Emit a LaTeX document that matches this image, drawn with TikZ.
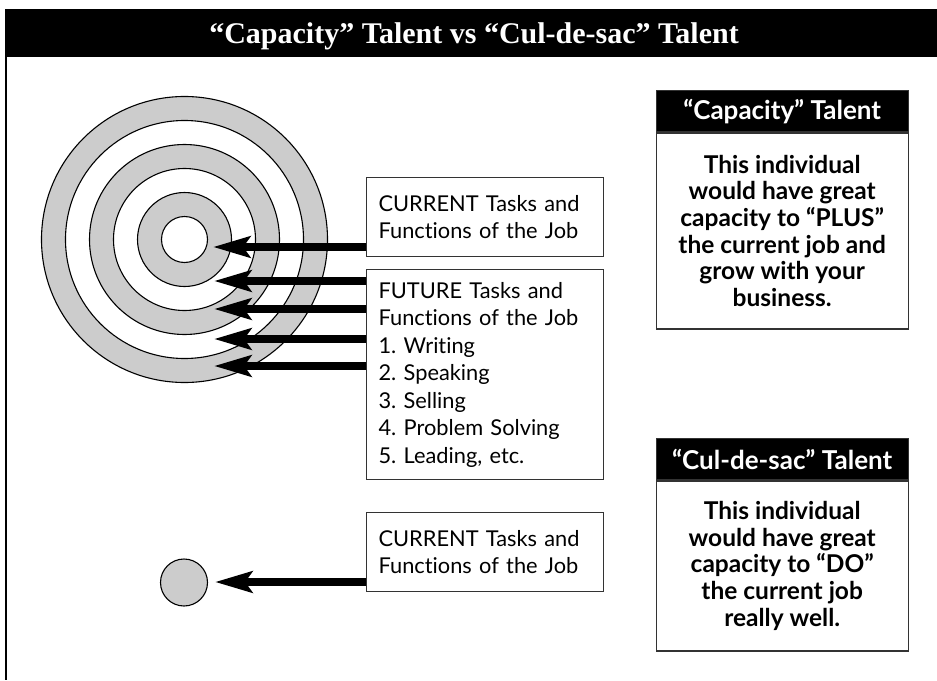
\documentclass[tikz,border=0pt]{standalone}
\usepackage{fontspec}
\setmainfont{Lato}[Ligatures={NoCommon,NoContextual}]
\newfontfamily\titlefont{Liberation Serif}
\usetikzlibrary{arrows.meta}
\definecolor{ringgray}{HTML}{CCCCCC}
\definecolor{boxline}{HTML}{333333}
\frenchspacing
\tikzset{
  ring/.style={circle, draw=black, line width=1.1pt, inner sep=0pt, fill=#1},
  ring/.default=ringgray,
  taskbox/.style={draw=boxline, line width=1.2pt, anchor=north west, inner xsep=12pt,
    text width=213pt, align=left, font=\fontsize{21.8}{27.5}\selectfont},
  headbox/.style={fill=black, draw=boxline, line width=1.2pt, anchor=north west, text=white,
    minimum width=252pt, minimum height=41pt, inner sep=0pt,
    font=\bfseries\fontsize{26}{28}\selectfont},
  talentbox/.style={draw=boxline, line width=1.4pt, anchor=north west, inner sep=0pt,
    minimum width=252pt, align=center, font=\bfseries\fontsize{24.5}{26.7}\selectfont},
  arr/.style={line width=8pt, -{Stealth[length=37pt, width=21pt, inset=7pt]}}
}
\begin{document}
\begin{tikzpicture}[x=1pt,y=-1pt]
\useasboundingbox (0,0) rectangle (937,680);
% frame
\node[fill=black, anchor=north west, minimum width=932pt, minimum height=48pt, inner sep=0pt] (bar) at (5,9) {};
\node[text=white, anchor=base, font=\titlefont\bfseries\fontsize{30}{36}\selectfont] (title) at (474,43) {“Capacity” Talent vs “Cul-de-sac” Talent};
\draw[line width=2pt] (bar.south west) ++(1,0) coordinate (fl) -- (6,680) coordinate (fb);
% target circles
\coordinate (c) at (184.5,239.5);
\node[ring, minimum size=286pt] (r6) at (c) {};
\node[ring=white, minimum size=238pt] (r5) at (c) {};
\node[ring, minimum size=190pt] (r4) at (c) {};
\node[ring=white, minimum size=142pt] (r3) at (c) {};
\node[ring, minimum size=94pt] (r2) at (c) {};
\node[ring=white, minimum size=46pt] (r1) at (c) {};
% small circle
\node[ring, minimum size=47pt] (dot) at (184,582.5) {};
% task boxes
\node[taskbox, minimum height=79pt] (cur) at (366,177) {CURRENT Tasks and\\Functions of the Job};
\node[taskbox, minimum height=210pt] (fut) at (366,269) {FUTURE Tasks and\\Functions of the Job\\1. Writing\\2. Speaking\\3. Selling\\4. Problem Solving\\5. Leading, etc.};
\node[taskbox, minimum height=79pt] (cur2) at (366,512) {CURRENT Tasks and\\Functions of the Job};
% arrows
\coordinate (t1) at (213,247);
\coordinate (t2) at (214,281);
\coordinate (t3) at (214,309);
\coordinate (t4) at (214,339);
\coordinate (t5) at (214,366);
\coordinate (t6) at (215,582);
\draw[arr] (cur.west |- t1) -- (t1);
\draw[arr] (fut.west |- t2) -- (t2);
\draw[arr] (fut.west |- t3) -- (t3);
\draw[arr] (fut.west |- t4) -- (t4);
\draw[arr] (fut.west |- t5) -- (t5);
\draw[arr] (cur2.west |- t6) -- (t6);
% talent boxes
\node[headbox] (caph) at (655.5,90) {“Capacity” Talent};
\node[talentbox, minimum height=196pt] (capb) at (caph.south west) {This individual\\would have great\\capacity to “PLUS”\\the current job and\\grow with your\\business.};
\node[headbox] (culh) at (655.5,438) {“Cul-de-sac” Talent};
\node[talentbox, minimum height=170pt] (culb) at (culh.south west) {This individual\\would have great\\capacity to “DO”\\the current job\\really well.};
\end{tikzpicture}
\end{document}
